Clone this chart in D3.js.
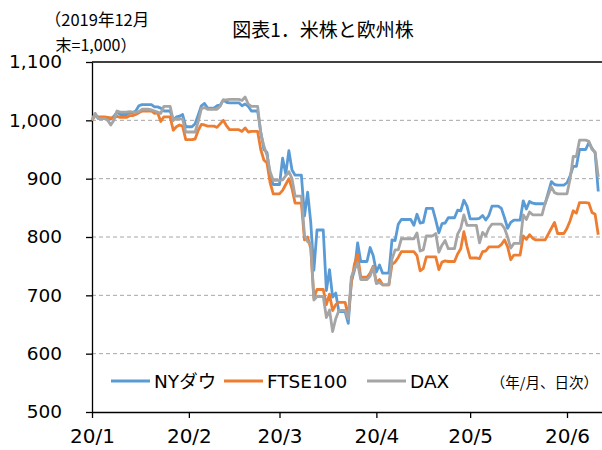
<!DOCTYPE html>
<html lang="ja">
<head>
<meta charset="UTF-8">
<title>図表1．米株と欧州株</title>
<script src="https://d3js.org/d3.v7.min.js"></script>
<style>
  body { margin: 0; background: #fff; }
  svg { display: block; }
  .num { font-family: "DejaVu Sans", "Noto Sans CJK JP", sans-serif; }
  .jp { font-family: "Noto Sans CJK JP", sans-serif; }
</style>
</head>
<body>
<svg width="602" height="450"></svg>
<script>
// trading days (holidays keep the previous close)
const dates = [
  '2020-01-01','2020-01-02','2020-01-03','2020-01-06','2020-01-07','2020-01-08','2020-01-09','2020-01-10',
  '2020-01-13','2020-01-14','2020-01-15','2020-01-16','2020-01-17','2020-01-20','2020-01-21','2020-01-22',
  '2020-01-23','2020-01-24','2020-01-27','2020-01-28','2020-01-29','2020-01-30','2020-01-31',
  '2020-02-03','2020-02-04','2020-02-05','2020-02-06','2020-02-07','2020-02-10','2020-02-11','2020-02-12',
  '2020-02-13','2020-02-14','2020-02-17','2020-02-18','2020-02-19','2020-02-20','2020-02-21','2020-02-24',
  '2020-02-25','2020-02-26','2020-02-27','2020-02-28',
  '2020-03-02','2020-03-03','2020-03-04','2020-03-05','2020-03-06','2020-03-09','2020-03-10','2020-03-11',
  '2020-03-12','2020-03-13','2020-03-16','2020-03-17','2020-03-18','2020-03-19','2020-03-20','2020-03-23',
  '2020-03-24','2020-03-25','2020-03-26','2020-03-27','2020-03-30','2020-03-31',
  '2020-04-01','2020-04-02','2020-04-03','2020-04-06','2020-04-07','2020-04-08','2020-04-09','2020-04-10',
  '2020-04-13','2020-04-14','2020-04-15','2020-04-16','2020-04-17','2020-04-20','2020-04-21','2020-04-22',
  '2020-04-23','2020-04-24','2020-04-27','2020-04-28','2020-04-29','2020-04-30',
  '2020-05-01','2020-05-04','2020-05-05','2020-05-06','2020-05-07','2020-05-08','2020-05-11','2020-05-12',
  '2020-05-13','2020-05-14','2020-05-15','2020-05-18','2020-05-19','2020-05-20','2020-05-21','2020-05-22',
  '2020-05-25','2020-05-26','2020-05-27','2020-05-28','2020-05-29',
  '2020-06-01','2020-06-02','2020-06-03','2020-06-04','2020-06-05','2020-06-08','2020-06-09','2020-06-10',
  '2020-06-11'
];

const nyDow = [
  1000,1011,1003,1005,1002,1007,1014,1010,1013,1013,1016,1025,1027,1027,1023,1023,1021,1016,1000,1006,1007,1010,989,
  994,1009,1025,1029,1021,1025,1026,1035,1031,1030,1030,1025,1028,1024,1016,980,950,945,903,890,
  935,908,948,915,906,836,877,825,743,812,708,744,697,704,672,652,725,743,790,758,782,768,
  740,752,738,795,794,822,830,830,820,839,824,825,849,829,807,823,824,833,846,845,863,853,
  831,832,837,829,837,853,849,833,815,825,829,862,848,861,858,857,857,876,895,890,889,
  893,905,921,921,950,962,952,944,878
];

const ftse100 = [
  1000,1008,1006,1005,1004,1004,1007,1005,1008,1008,1010,1013,1016,1016,1012,1013,998,1006,983,989,992,990,967,
  968,983,993,992,990,988,994,1000,991,984,984,981,987,980,981,950,932,927,893,874,
  880,890,900,883,858,795,800,780,696,710,684,702,674,684,688,664,722,754,770,731,738,750,
  722,727,718,753,757,765,775,775,775,768,742,746,766,766,744,757,759,758,771,780,809,784,
  764,763,775,776,783,783,787,795,783,761,769,802,796,804,798,795,795,805,815,825,806,
  815,828,845,841,859,858,842,839,804
];

const dax = [
  1000,1012,1003,1000,992,1000,1016,1014,1015,1014,1014,1015,1019,1018,1016,1014,1012,1024,1000,1003,1003,1002,980,
  980,998,1020,1022,1019,1019,1024,1035,1035,1036,1036,1034,1040,1028,1024,978,956,940,912,897,
  898,905,912,900,870,803,792,788,692,698,662,675,638,660,674,660,732,745,755,727,733,748,
  720,722,718,762,778,778,797,797,797,807,776,778,802,806,774,786,794,780,805,815,838,820,
  820,790,808,802,815,822,822,815,800,781,789,838,830,843,838,838,858,872,886,876,874,
  874,900,938,938,966,964,950,946,903
];

const seriesNames = ['NYダウ', 'FTSE100', 'DAX'];
const seriesColors = ['#5B9BD5', '#ED7D31', '#A5A5A5'];
const yTicks = [500, 600, 700, 800, 900, 1000, 1100];
const monthTicks = ['2020-01-01','2020-02-01','2020-03-01','2020-04-01','2020-05-01','2020-06-01'];
const monthLabels = ['20/1', '20/2', '20/3', '20/4', '20/5', '20/6'];

const margin = { top: 62, right: 0, bottom: 38, left: 92 },
      width = 602 - margin.left - margin.right,
      height = 450 - margin.top - margin.bottom;

const parse = d3.utcParse('%Y-%m-%d');
const dayMs = 86400000;

const svg = d3.select('svg')
  .append('g')
    .attr('transform', `translate(${margin.left}, ${margin.top})`);

const x = d3.scaleUtc()
    .domain([parse('2020-01-01'), parse('2020-06-13')])
    .range([0, 164 * 3.125]);

const y = d3.scaleLinear()
    .domain([500, 1100])
    .range([height, 0]);

// gridlines
svg.append('g')
  .selectAll('line')
  .data(yTicks.filter(v => v > 500))
  .enter().append('line')
    .attr('x1', 0)
    .attr('x2', width)
    .attr('y1', d => y(d))
    .attr('y2', d => y(d))
    .attr('stroke', d => d === 1100 ? '#000' : '#A6A6A6')
    .attr('stroke-width', d => d === 1100 ? 1.3 : 1)
    .attr('stroke-dasharray', d => d === 1100 ? null : '4,3');

// y axis
const yAxis = svg.append('g')
    .attr('class', 'num')
    .call(d3.axisLeft(y).tickValues(yTicks).tickFormat(d3.format(',')).tickSize(6).tickSizeOuter(0).tickPadding(24));

// x axis
const xAxis = svg.append('g')
    .attr('class', 'num')
    .attr('transform', `translate(0, ${height})`)
    .call(d3.axisBottom(x)
      .tickValues(monthTicks.map(parse))
      .tickFormat((d, i) => monthLabels[i])
      .tickSize(6).tickSizeOuter(0).tickPadding(11));
xAxis.select('.domain').attr('d', `M0,0.5H${width}`);

[yAxis, xAxis].forEach(a => {
  a.select('.domain').attr('stroke', '#000').attr('stroke-width', 1.3);
  a.selectAll('.tick line').attr('stroke', '#000').attr('stroke-width', 1.3);
  a.selectAll('.tick text').attr('fill', '#000');
});
yAxis.selectAll('.tick text').attr('font-size', '18.5px');
xAxis.selectAll('.tick text').attr('font-size', '20px');

// keep the last close over weekends and holidays
function heldPoints(values) {
  const pts = [];
  dates.forEach((s, i) => {
    const d = parse(s);
    pts.push({ date: d, value: values[i] });
    if (i + 1 < dates.length) {
      const next = parse(dates[i + 1]);
      if (next - d > dayMs * 1.5) pts.push({ date: new Date(next - dayMs), value: values[i] });
    }
  });
  return pts;
}

const line = d3.line()
    .x(d => x(d.date))
    .y(d => y(d.value));

[nyDow, ftse100, dax].forEach((values, i) => {
  svg.append('path')
      .datum(heldPoints(values))
      .attr('fill', 'none')
      .attr('stroke', seriesColors[i])
      .attr('stroke-width', 2.8)
      .attr('stroke-linejoin', 'round')
      .attr('d', line);
});

// legend
const root = d3.select('svg');
const legendX = [111, 224, 367];
const legend = root.append('g').attr('class', 'num');
seriesNames.forEach((name, i) => {
  legend.append('line')
      .attr('x1', legendX[i]).attr('x2', legendX[i] + 39)
      .attr('y1', 381).attr('y2', 381)
      .attr('stroke', seriesColors[i])
      .attr('stroke-width', 2.8);
  legend.append('text')
      .attr('x', legendX[i] + 43)
      .attr('y', 388)
      .attr('font-size', '18.5px')
      .attr('fill', '#000')
      .text(name);
});

root.append('text')
    .attr('class', 'jp')
    .attr('x', 598).attr('y', 388)
    .attr('text-anchor', 'end')
    .attr('font-size', '14.5px')
    .text('（年/月、日次）');

// title and unit
root.append('text')
    .attr('class', 'jp')
    .attr('x', 323).attr('y', 37)
    .attr('text-anchor', 'middle')
    .attr('font-size', '19px')
    .text('図表1．米株と欧州株');

root.append('text')
    .attr('class', 'jp')
    .attr('x', 97).attr('y', 26)
    .attr('text-anchor', 'middle')
    .attr('font-size', '16.5px')
    .text('（2019年12月');

root.append('text')
    .attr('class', 'jp')
    .attr('x', 96).attr('y', 51)
    .attr('text-anchor', 'middle')
    .attr('font-size', '16px')
    .text('末=1,000）');
</script>
</body>
</html>
